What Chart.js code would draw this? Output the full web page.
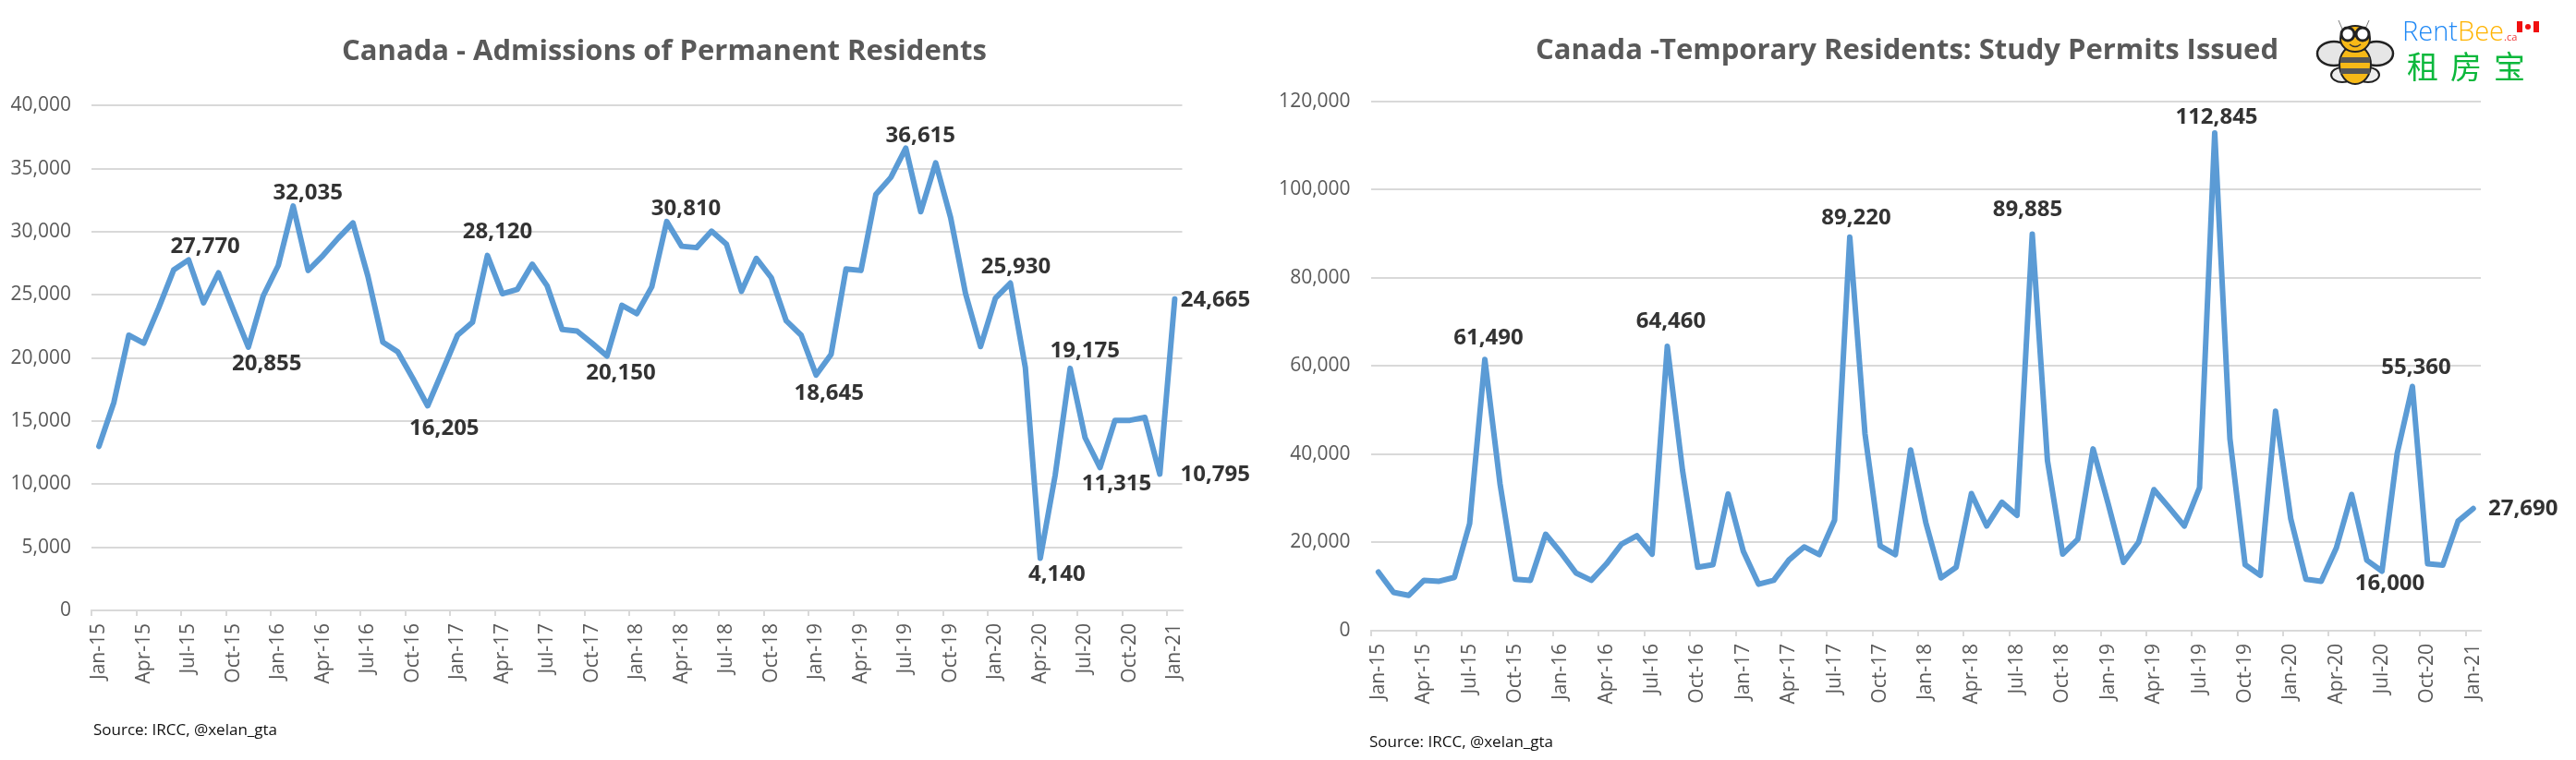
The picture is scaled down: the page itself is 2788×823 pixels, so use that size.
<!DOCTYPE html>
<html>
<head>
<meta charset="utf-8">
<title>Canada residents</title>
<script src="https://cdn.jsdelivr.net/npm/chart.js@4/dist/chart.umd.min.js"></script>
<style>
html,body{margin:0;padding:0;background:#fff;width:2788px;height:823px;overflow:hidden;}
canvas{position:absolute;top:0;}
#c1{left:0;}
#c2{left:1340px;}
.src{position:absolute;font:17px "Open Sans",sans-serif;color:#111;white-space:nowrap;}
#logo{position:absolute;left:2505px;top:8px;width:260px;height:90px;}
.rent{position:absolute;left:95px;top:5px;font:300 29px "Open Sans",sans-serif;white-space:nowrap;}
.zh{position:absolute;left:100px;top:38px;font:34px "Noto Sans CJK SC",sans-serif;letter-spacing:13px;color:#0cb83c;white-space:nowrap;}
</style>
</head>
<body>
<canvas id="c1" width="1438" height="823"></canvas>
<canvas id="c2" width="1448" height="823"></canvas>
<div class="src" style="left:101px;top:778px">Source: IRCC, @xelan_gta</div>
<div class="src" style="left:1482px;top:791px">Source: IRCC, @xelan_gta</div>
<div id="logo">
  <svg width="95" height="90" style="position:absolute;left:0;top:0">
    <path d="M26 14 L32 28 M59 14 L53 28" stroke="#777" stroke-width="1" fill="none"/>
    <ellipse cx="21" cy="50" rx="18" ry="13" fill="#e6e6e6" stroke="#222" stroke-width="2.5"/>
    <ellipse cx="67" cy="50" rx="18" ry="13" fill="#e6e6e6" stroke="#222" stroke-width="2.5"/>
    <ellipse cx="30" cy="73" rx="12" ry="8" fill="#eee" stroke="#222" stroke-width="2"/>
    <ellipse cx="58" cy="73" rx="12" ry="8" fill="#eee" stroke="#222" stroke-width="2"/>
    <ellipse cx="44" cy="62" rx="17" ry="21" fill="#f7b917" stroke="#222" stroke-width="2"/>
    <rect x="28" y="54" width="32" height="6" fill="#555"/>
    <rect x="28" y="66" width="32" height="6" fill="#555"/>
    <ellipse cx="44" cy="34" rx="16" ry="14" fill="#f7b917" stroke="#222" stroke-width="2"/>
    <circle cx="36" cy="29" r="7" fill="#fff" stroke="#222" stroke-width="3"/>
    <circle cx="52" cy="29" r="7" fill="#fff" stroke="#222" stroke-width="3"/>
    <path d="M38 40 Q44 45 50 40" stroke="#333" stroke-width="1.5" fill="none"/>
  </svg>
  <div class="rent"><span style="color:#1e88f5">Rent</span><span style="color:#ffb300">Bee</span><span style="color:#e33;font-size:11px;font-weight:400">.ca</span></div>
  <svg width="24" height="12" style="position:absolute;left:219px;top:15px">
    <rect width="24" height="12" fill="#fff"/><rect width="6" height="12" fill="#f01010"/><rect x="18" width="6" height="12" fill="#f01010"/>
    <circle cx="12" cy="6" r="3" fill="#f01010"/>
  </svg>
  <div class="zh">租房宝</div>
</div>
<script>
const months = [
  'Jan-15','Feb-15','Mar-15','Apr-15','May-15','Jun-15','Jul-15','Aug-15','Sep-15','Oct-15','Nov-15','Dec-15',
  'Jan-16','Feb-16','Mar-16','Apr-16','May-16','Jun-16','Jul-16','Aug-16','Sep-16','Oct-16','Nov-16','Dec-16',
  'Jan-17','Feb-17','Mar-17','Apr-17','May-17','Jun-17','Jul-17','Aug-17','Sep-17','Oct-17','Nov-17','Dec-17',
  'Jan-18','Feb-18','Mar-18','Apr-18','May-18','Jun-18','Jul-18','Aug-18','Sep-18','Oct-18','Nov-18','Dec-18',
  'Jan-19','Feb-19','Mar-19','Apr-19','May-19','Jun-19','Jul-19','Aug-19','Sep-19','Oct-19','Nov-19','Dec-19',
  'Jan-20','Feb-20','Mar-20','Apr-20','May-20','Jun-20','Jul-20','Aug-20','Sep-20','Oct-20','Nov-20','Dec-20',
  'Jan-21'
];

// Permanent residents, monthly
const permanent = [
  13000,16480,21800,21170,23970,26970,27770,24360,26740,23780,20855,24930,
  27320,32035,26930,28120,29470,30700,26470,21250,20480,18400,16205,18980,
  21800,22820,28120,25090,25430,27430,25700,22250,22130,21170,20150,24170,
  23510,25630,30810,28850,28740,30040,29000,25280,27890,26350,22940,21800,
  18645,20290,27050,26930,32960,34300,36615,31580,35460,31120,25090,20900,
  24740,25930,19250,4140,10720,19175,13680,11315,15060,15060,15290,10795,
  24665
];
// Study permits, monthly
const study = [
  13300,8680,8020,11430,11210,12090,24290,61490,33300,11650,11430,21870,
  17690,13080,11430,15160,19670,21540,17360,64460,36370,14400,14950,30990,
  18020,10550,11430,16040,19010,17250,25050,89220,44620,19230,17250,40990,
  24500,11980,14400,31100,23740,29120,26150,89885,38570,17360,20770,41210,
  28680,15490,20110,31980,27910,23740,32420,112845,43520,14950,12530,49780,
  25380,11650,11210,18790,30880,16000,13500,40220,55360,15160,14840,24830,
  27690
];

const permLabelIdx = [6,10,13,22,26,34,38,48,54,61,63,65,67,71,72];
const permLabelOff = [[18,-14],[20,18],[16,-14],[18,25],[11,-25],[15,19],[21,-14],[14,20],[16,-13],[6,-17],[18,18],[16,-19],[18,18],[60,1],[44,1]];
const studyLabelIdx = [7,19,31,43,55,65,68,72];
const studyLabelOff = [[4,-23],[4,-27],[7,-21],[-5,-26],[2,-17],[25,26],[4,-20],[54,0]];

const GRID = '#d9d9d9';
const TICK_TXT = '#595959';
const fmt = new Intl.NumberFormat('en-US');

// draws the few value labels next to their points
const pointLabels = {
  id:'pointLabels',
  afterDatasetsDraw(chart, args, opts){
    const ctx = chart.ctx;
    const pts = chart.getDatasetMeta(0).data;
    const vals = chart.data.datasets[0].data;
    ctx.save();
    ctx.font = 'bold 24px "Open Sans", sans-serif';
    ctx.fillStyle = '#333333';
    ctx.textAlign = 'center';
    ctx.textBaseline = 'middle';
    opts.idx.forEach((i,n)=>{
      ctx.fillText(fmt.format(vals[i]), pts[i].x+opts.off[n][0], pts[i].y+opts.off[n][1]);
    });
    ctx.restore();
  }
};

function makeChart(id, title, data, cfg){
  return new Chart(document.getElementById(id),{
    type:'line',
    data:{labels:months,datasets:[{data,borderColor:'#5b9bd5',borderWidth:6,pointRadius:0,tension:0,borderCapStyle:'round',borderJoinStyle:'round'}]},
    plugins:[pointLabels],
    options:{
      responsive:false,
      animation:false,
      plugins:{
        legend:{display:false},
        tooltip:{enabled:false},
        title:{display:true,text:title,color:'#595959',font:{family:'"Open Sans", sans-serif',size:31,weight:'bold',lineHeight:1.2},padding:cfg.titlePad},
        pointLabels:{idx:cfg.idx,off:cfg.off}
      },
      scales:{
        x:{
          offset:true,
          afterFit:s=>{s.height=cfg.xHeight;},
          grid:{offset:true,drawOnChartArea:false,tickLength:6,lineWidth:2,color:c=>c.index%3===0?GRID:'transparent'},
          border:{color:GRID,width:2},
          ticks:{autoSkip:false,minRotation:90,maxRotation:90,padding:8,color:TICK_TXT,font:{family:'"Open Sans", sans-serif',size:21},
            callback:function(v,i){return i%3===0?this.getLabelForValue(v):'';}}
        },
        y:{
          min:0,max:cfg.max,
          afterFit:s=>{s.width=cfg.yWidth;},
          grid:{color:GRID,lineWidth:2,drawTicks:false},
          border:{display:false},
          ticks:{stepSize:cfg.step,padding:22,color:TICK_TXT,font:{family:'"Open Sans", sans-serif',size:21},callback:v=>fmt.format(v)}
        },
        // empty right margin, keeps the title centred on the whole canvas
        yRight:{
          position:'right',
          afterFit:s=>{s.width=cfg.rightWidth;},
          grid:{display:false},
          border:{display:false},
          ticks:{display:false}
        }
      }
    }
  });
}

makeChart('c1','Canada - Admissions of Permanent Residents',permanent,{
  max:40000,step:5000,idx:permLabelIdx,off:permLabelOff,rightWidth:158.5,yWidth:99,xHeight:162,titlePad:{top:38,bottom:39}
});
makeChart('c2','Canada -Temporary Residents: Study Permits Issued',study,{
  max:120000,step:20000,idx:studyLabelIdx,off:studyLabelOff,rightWidth:103,yWidth:143.6,xHeight:140,titlePad:{top:37,bottom:35.5}
});
</script>
</body>
</html>
